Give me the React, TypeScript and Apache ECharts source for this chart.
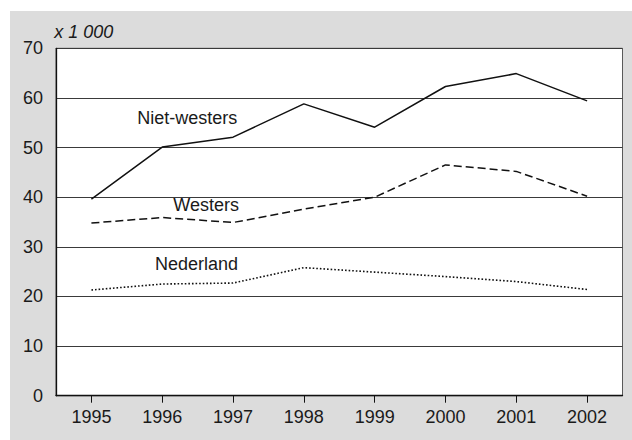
import React, { useEffect, useRef } from "react";
import * as echarts from "echarts";

const years = ["1995", "1996", "1997", "1998", "1999", "2000", "2001", "2002"];
const nietWesters = [39.6, 50.1, 52.1, 58.8, 54.1, 62.3, 64.9, 59.4];
const westers = [34.8, 35.9, 34.9, 37.6, 40.0, 46.5, 45.2, 40.2];
const nederland = [21.3, 22.5, 22.7, 25.8, 24.9, 24.0, 23.0, 21.4];
const yTicks = { min: 0, max: 70, interval: 10 };
const unitLabel = "x 1 000";
const seriesLabels = ["Niet-westers", "Westers", "Nederland"];

const FONT = "'Liberation Sans', Arial, Helvetica, sans-serif";
const TXT = "#1a1a1a";
const FS = 18;

export default function App() {
  const ref = useRef<HTMLDivElement>(null);
  useEffect(() => {
    document.body.style.margin = "0";
    const chart = echarts.init(ref.current!, undefined, { renderer: "svg" });
    const lineBase = { type: "line", symbol: "none", silent: true, z: 5 };
    chart.setOption({
      animation: false,
      backgroundColor: "#ffffff",
      textStyle: { fontFamily: FONT },
      grid: {
        left: 56,
        right: 9.5,
        top: 48.3,
        bottom: 44.3,
        show: true,
        backgroundColor: "#ffffff",
        borderColor: "#5a5a5a",
        borderWidth: 1,
        z: -1,
      },
      graphic: [
        {
          type: "rect",
          z: -10,
          silent: true,
          shape: { x: 10, y: 11, width: 622, height: 429 },
          style: { fill: "#dcdcdc" },
        },
        {
          type: "text",
          x: 54.3,
          y: 32,
          z: 10,
          style: {
            text: unitLabel,
            font: `italic ${FS}px ${FONT}`,
            fill: TXT,
            verticalAlign: "middle",
          },
        },
        {
          type: "text",
          x: 137.3,
          y: 117.8,
          z: 10,
          style: { text: seriesLabels[0], font: `${FS}px ${FONT}`, fill: TXT, verticalAlign: "middle" },
        },
        {
          type: "text",
          x: 173.3,
          y: 204.5,
          z: 10,
          style: { text: seriesLabels[1], font: `${FS}px ${FONT}`, fill: TXT, verticalAlign: "middle" },
        },
        {
          type: "text",
          x: 155,
          y: 263.5,
          z: 10,
          style: { text: seriesLabels[2], font: `${FS}px ${FONT}`, fill: TXT, verticalAlign: "middle" },
        },
      ],
      xAxis: {
        type: "category",
        data: years,
        boundaryGap: true,
        z: 3,
        axisLine: { show: true, lineStyle: { color: "#111", width: 1.3 } },
        axisTick: { show: true, alignWithLabel: true, length: 7, lineStyle: { color: "#111", width: 1 } },
        axisLabel: { color: TXT, fontSize: FS, fontFamily: FONT, margin: 12 },
        splitLine: { show: false },
      },
      yAxis: {
        type: "value",
        min: yTicks.min,
        max: yTicks.max,
        interval: yTicks.interval,
        z: 2,
        axisLine: { show: true, lineStyle: { color: "#111", width: 1.3 } },
        axisTick: { show: false },
        axisLabel: { color: TXT, fontSize: FS, fontFamily: FONT, margin: 13, padding: [3, 0, 0, 0] },
        splitLine: { show: true, lineStyle: { color: "#3a3a3a", width: 1.2 } },
      },
      series: [
        { ...lineBase, name: seriesLabels[0], data: nietWesters, lineStyle: { color: "#111", width: 1.5, type: "solid" } },
        { ...lineBase, name: seriesLabels[1], data: westers, lineStyle: { color: "#111", width: 1.5, type: [8, 4] } },
        { ...lineBase, name: seriesLabels[2], data: nederland, lineStyle: { color: "#111", width: 1.6, type: [1.6, 2] } },
      ],
    });
    return () => chart.dispose();
  }, []);
  return (
    <div
      ref={ref}
      style={{ position: "fixed", left: 0, top: 0, width: 632, height: 440 }}
    />
  );
}
